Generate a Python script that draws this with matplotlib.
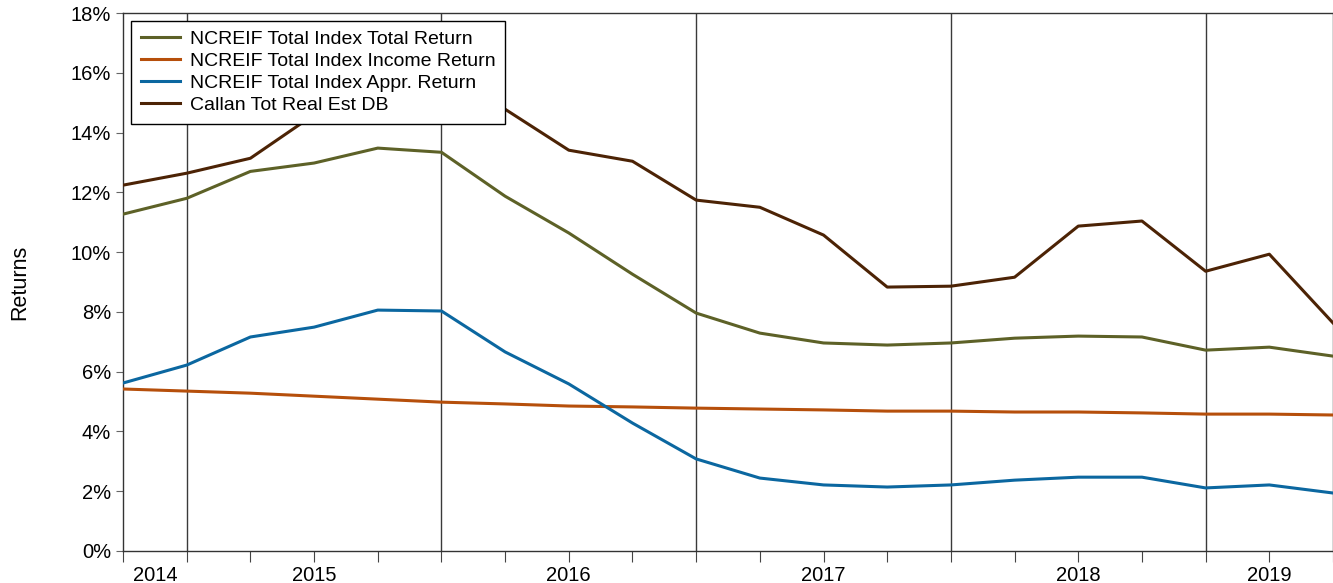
import matplotlib.pyplot as plt
import numpy as np

plt.rcParams['font.family'] = ['Liberation Sans', 'DejaVu Sans']

# quarterly points, 20 quarters
total_return = [11.27, 11.80, 12.70, 12.98, 13.48, 13.34, 11.87, 10.64, 9.26, 7.96,
                7.29, 6.96, 6.89, 6.96, 7.12, 7.19, 7.16, 6.72, 6.82, 6.52]
income_return = [5.42, 5.35, 5.28, 5.18, 5.08, 4.98, 4.92, 4.85, 4.82, 4.78,
                 4.75, 4.72, 4.68, 4.68, 4.65, 4.65, 4.62, 4.58, 4.58, 4.55]
appr_return = [5.62, 6.22, 7.16, 7.49, 8.06, 8.03, 6.66, 5.59, 4.28, 3.08,
               2.44, 2.21, 2.14, 2.21, 2.37, 2.47, 2.47, 2.11, 2.21, 1.94]
callan = [12.24, 12.64, 13.14, 14.60, 15.00, 15.30, 14.78, 13.41, 13.04, 11.74,
          11.50, 10.57, 8.83, 8.86, 9.16, 10.87, 11.04, 9.36, 9.93, 7.63]

years = ['2014', '2015', '2016', '2017', '2018', '2019']
year_pos = [0.5, 3, 7, 11, 15, 18]
year_lines = [1, 5, 9, 13, 17]

x = np.arange(len(total_return))

fig = plt.figure(figsize=(13.33, 5.83), dpi=100)
ax = fig.add_axes([0.0923, 0.0549, 0.9077, 0.9228])

for xl in year_lines:
    ax.axvline(xl, color='#3a3a3a', lw=1, zorder=1)

ax.plot(x, total_return, color='#5d6127', lw=2.2, label='NCREIF Total Index Total Return', zorder=3)
ax.plot(x, income_return, color='#b64f0b', lw=2.2, label='NCREIF Total Index Income Return', zorder=3)
ax.plot(x, appr_return, color='#0b67a0', lw=2.2, label='NCREIF Total Index Appr. Return', zorder=3)
ax.plot(x, callan, color='#4c2305', lw=2.2, label='Callan Tot Real Est DB', zorder=3)

ax.set_xlim(0, 19)
ax.set_ylim(0, 18)
ax.set_yticks(np.arange(0, 19, 2))
ax.set_yticklabels([f'{v}%' for v in range(0, 19, 2)], fontsize=14.5)
ax.xaxis.remove_overlapping_locs = False
ax.set_xticks(x)
ax.set_xticklabels([])
ax.set_xticks(year_pos, minor=True)
ax.set_xticklabels(years, minor=True, fontsize=14.5)
ax.tick_params(axis='x', which='major', length=8, color='#444444', direction='out')
ax.tick_params(axis='x', which='minor', length=0, pad=11)
ax.tick_params(axis='y', length=5, color='#666666', direction='out')
ax.set_ylabel('Returns', fontsize=15.5)
ax.yaxis.set_label_coords(-0.077, 0.5)

for s in ax.spines.values():
    s.set_color('#333333')
    s.set_linewidth(1)

leg = ax.legend(loc='upper left', fontsize=14, frameon=True, fancybox=False,
                framealpha=1, edgecolor='black', borderaxespad=0.4,
                handlelength=2.05, handletextpad=0.5,
                labelspacing=0.22, borderpad=0.5)
leg.get_frame().set_linewidth(1)
leg.set_zorder(5)

fig.savefig('out.png', dpi=100)
